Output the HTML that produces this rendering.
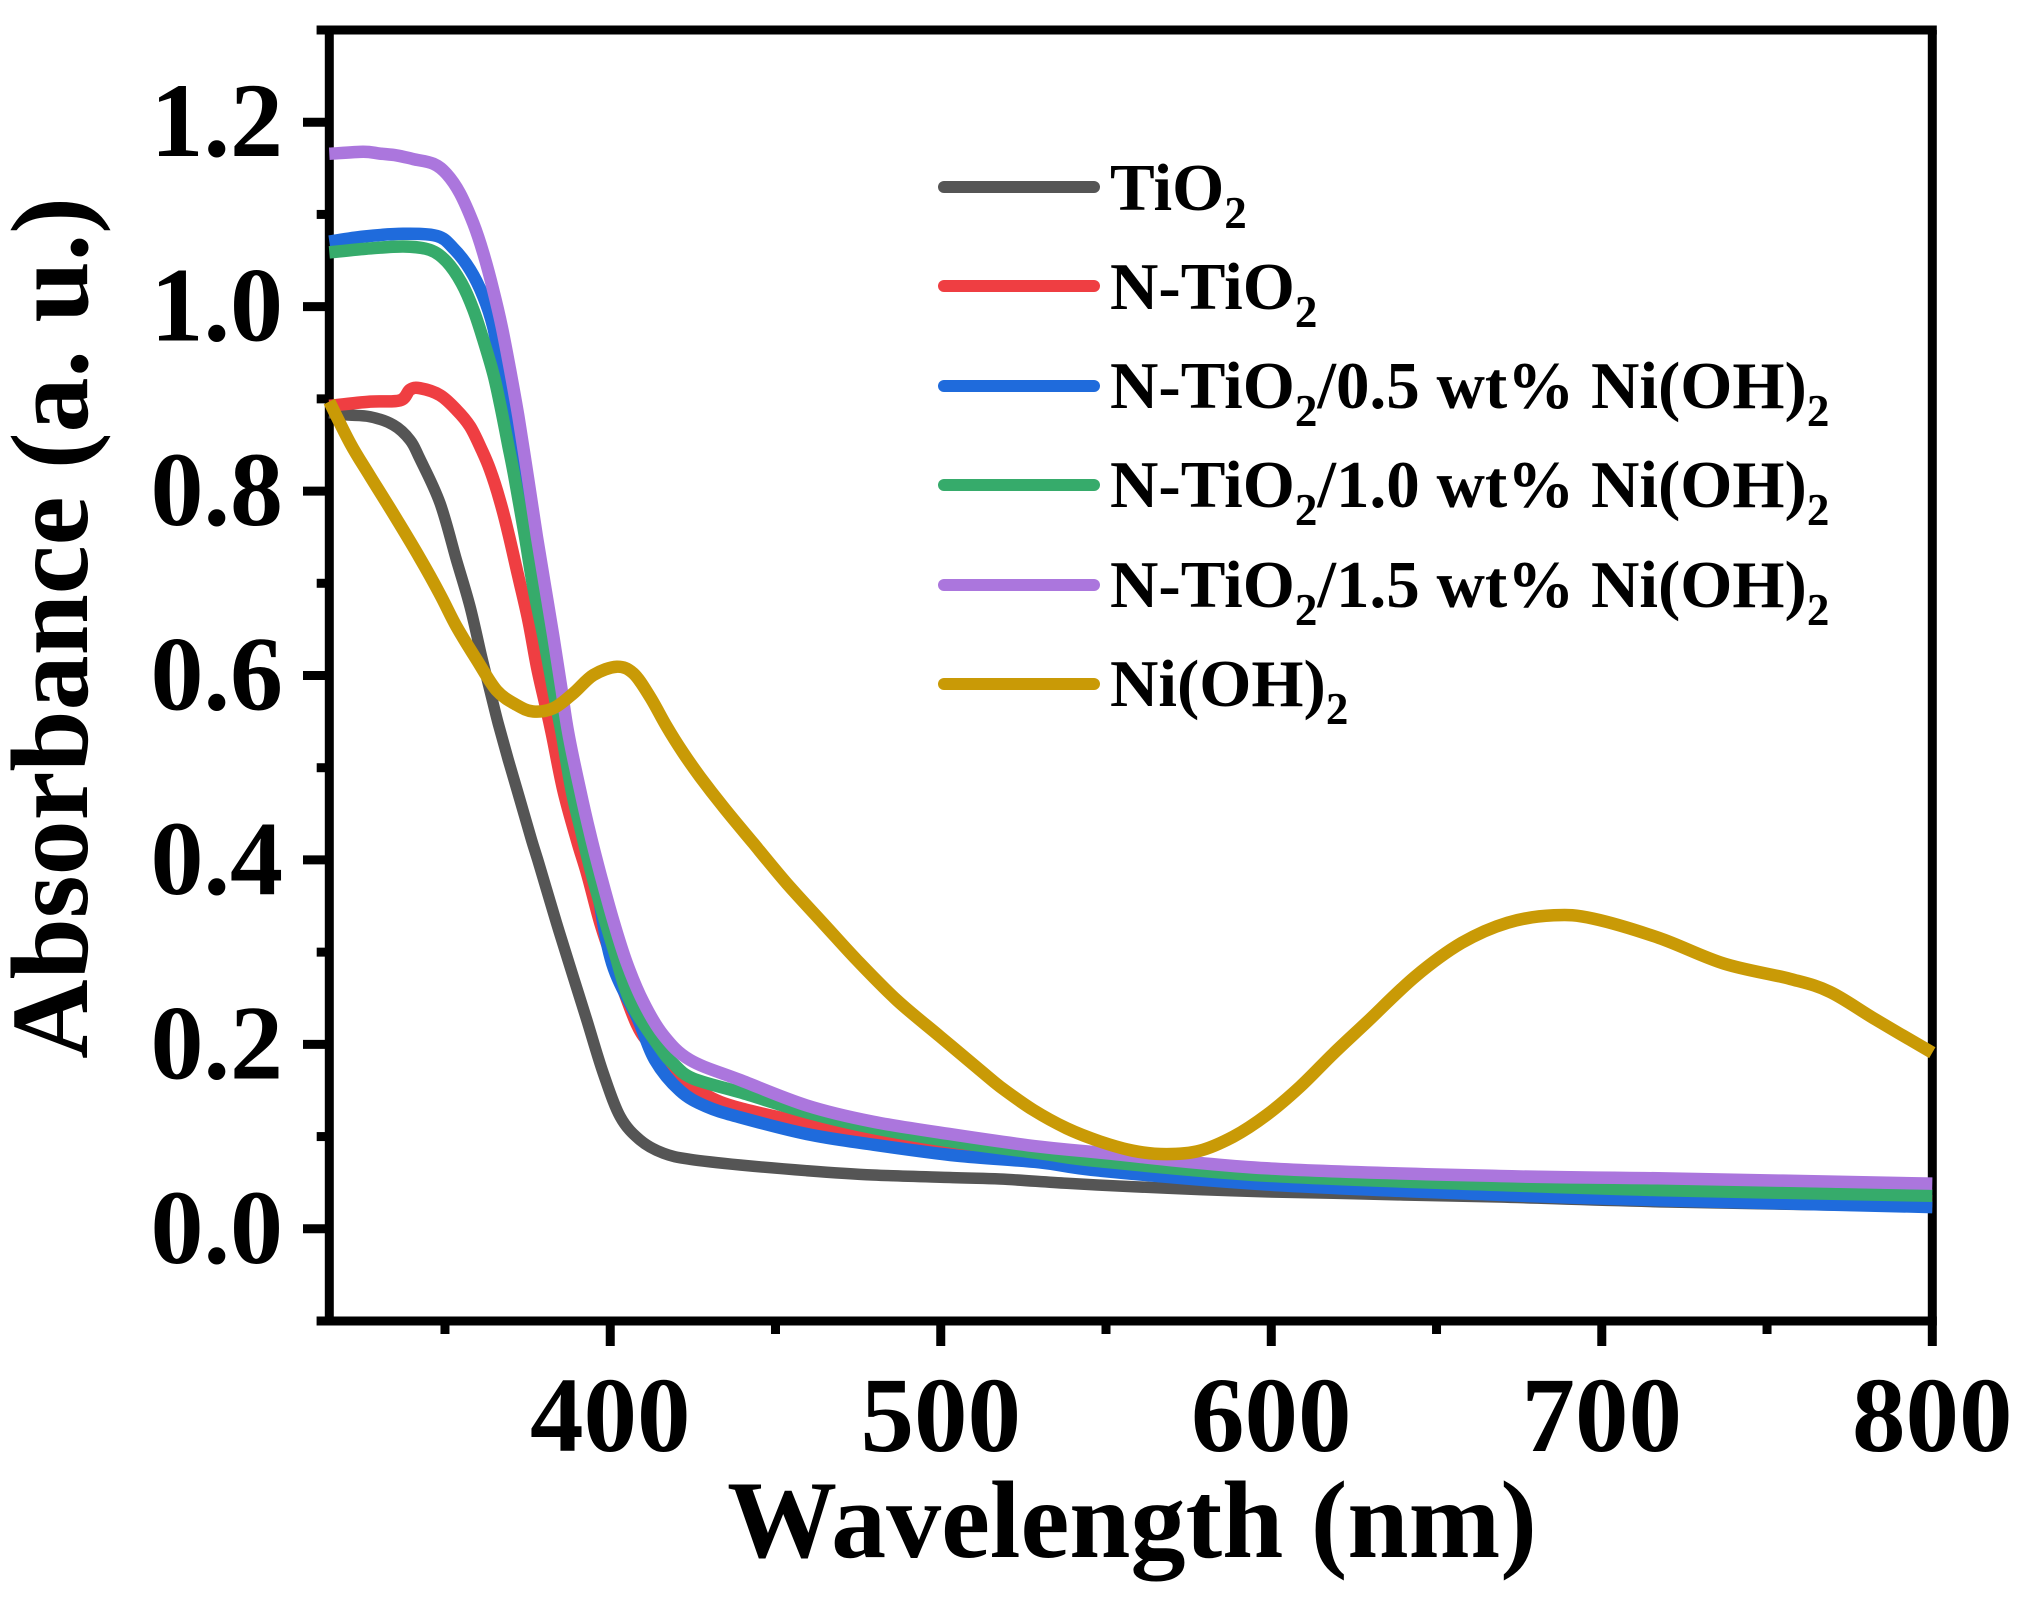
<!DOCTYPE html>
<html lang="en">
<head>
<meta charset="utf-8">
<title>Absorbance vs Wavelength</title>
<style>
html,body{margin:0;padding:0;background:#fff;width:2033px;height:1601px;overflow:hidden}
svg{display:block}
text{font-family:"Liberation Serif",serif;font-weight:bold;fill:#000}
</style>
</head>
<body>
<svg id="chart" xmlns="http://www.w3.org/2000/svg" width="2033" height="1601" viewBox="0 0 2033 1601">
  <rect x="0" y="0" width="2033" height="1601" fill="#fff"/>
  <g id="axes"></g>
  <g id="series"></g>
  <text x="1132" y="1557" font-size="110" text-anchor="middle">Wavelength (nm)</text>
  <text transform="translate(87 628) rotate(-90)" font-size="110" text-anchor="middle">Absorbance (a. u.)</text>
  <g font-size="67">
    <g>
      <line x1="944" x2="1094" y1="187" y2="187" stroke="#555555" stroke-width="12" stroke-linecap="round"/>
      <text x="1110" y="210">TiO<tspan font-size="45" dy="18">2</tspan></text>
    </g>
    <g>
      <line x1="944" x2="1094" y1="286" y2="286" stroke="#ef3e42" stroke-width="12" stroke-linecap="round"/>
      <text x="1110" y="309">N-TiO<tspan font-size="45" dy="18">2</tspan></text>
    </g>
    <g>
      <line x1="944" x2="1094" y1="386" y2="386" stroke="#1f6bdc" stroke-width="12" stroke-linecap="round"/>
      <text x="1110" y="408">N-TiO<tspan font-size="45" dy="18">2</tspan><tspan dy="-18">/0.5 wt% Ni(OH)</tspan><tspan font-size="45" dy="18">2</tspan></text>
    </g>
    <g>
      <line x1="944" x2="1094" y1="485" y2="485" stroke="#36ab6b" stroke-width="12" stroke-linecap="round"/>
      <text x="1110" y="507">N-TiO<tspan font-size="45" dy="18">2</tspan><tspan dy="-18">/1.0 wt% Ni(OH)</tspan><tspan font-size="45" dy="18">2</tspan></text>
    </g>
    <g>
      <line x1="944" x2="1094" y1="585" y2="585" stroke="#ab76dd" stroke-width="12" stroke-linecap="round"/>
      <text x="1110" y="607">N-TiO<tspan font-size="45" dy="18">2</tspan><tspan dy="-18">/1.5 wt% Ni(OH)</tspan><tspan font-size="45" dy="18">2</tspan></text>
    </g>
    <g>
      <line x1="944" x2="1094" y1="684" y2="684" stroke="#c99a06" stroke-width="12" stroke-linecap="round"/>
      <text x="1110" y="706">Ni(OH)<tspan font-size="45" dy="18">2</tspan></text>
    </g>
  </g>
</svg>
<script>
const xMajorTicks = [400, 500, 600, 700, 800];
const xMinorTicks = [350, 450, 550, 650, 750];
const yMajorTicks = [0, 0.2, 0.4, 0.6, 0.8, 1.0, 1.2];
const yMinorTicks = [-0.1, 0.1, 0.3, 0.5, 0.7, 0.9, 1.1, 1.3];
const xTickLabels = ['400', '500', '600', '700', '800'];
const yTickLabels = ['0.0', '0.2', '0.4', '0.6', '0.8', '1.0', '1.2'];

const tio2Nm = [315,320.3,327.3,334.4,339.4,342.4,348.5,353.5,357.6,361.1,363.6,366.1,369.2,372.7,376.2,378.7,383.8,388.8,392.9,397.9,403,409,416.1,424.1,439.3,459.4,479.6,504.8,518,538.1,558.3,578.4,598.6,618.8,639,669,720,800];
const tio2Abs = [0.885,0.8826,0.8807,0.8717,0.8554,0.835,0.787,0.725,0.6745,0.62,0.584,0.548,0.508,0.465,0.4215,0.3927,0.331,0.2734,0.2264,0.1686,0.1216,0.0963,0.0819,0.0754,0.0692,0.063,0.0583,0.0554,0.054,0.0493,0.0456,0.0425,0.04,0.0385,0.0367,0.0345,0.029,0.024];

const nTio2Nm = [315,327.3,336.4,339.4,342.4,348.5,353.5,357.6,361.1,363.6,366.6,369.2,372.2,375.2,377.8,380.3,382.3,385.8,389.9,393,397.1,401.1,408,413,419.1,429,439.3,459.4,479.6,504.8,530,598,650,720,800];
const nTio2Abs = [0.8925,0.897,0.8983,0.9098,0.9116,0.904,0.888,0.87,0.8446,0.8235,0.79,0.754,0.707,0.66,0.6095,0.57,0.5375,0.4755,0.4215,0.385,0.33,0.288,0.222,0.196,0.1704,0.145,0.1308,0.1144,0.0985,0.085,0.075,0.05,0.04,0.034,0.03];

const wt05Nm = [315,325.3,337.4,347.6,352.5,357.6,361.6,364.6,366.6,369.3,372.9,377.5,382,386.7,391,396,400.6,408.5,413.5,421.1,429,439.3,459.4,479.6,504.8,530,548.2,598.6,669,717,800];
const wt05Abs = [1.0705,1.076,1.079,1.0766,1.0635,1.04,1.011,0.978,0.939,0.89,0.807,0.707,0.619,0.53,0.46,0.37,0.2876,0.2265,0.1831,0.1497,0.1327,0.1209,0.1028,0.0912,0.0793,0.072,0.063,0.048,0.0367,0.031,0.0235];

const wt10Nm = [315,325.3,337.4,345.4,350.5,355,358.6,361.6,364.6,366.6,369.2,371.2,374.2,376.7,379.8,382.8,385.3,388.3,391.4,394.9,401.1,406.2,414.9,419.1,425,439.3,459.4,479.6,504.8,530,548.2,598.6,669,717,800];
const wt10Abs = [1.0588,1.0625,1.0652,1.0615,1.0488,1.0256,0.9966,0.9641,0.9275,0.8956,0.8486,0.812,0.7505,0.6965,0.642,0.584,0.5375,0.4755,0.4285,0.378,0.3023,0.2459,0.197,0.179,0.163,0.148,0.1263,0.1093,0.0938,0.0819,0.0732,0.0576,0.0475,0.042,0.0358];

const wt15Nm = [315,325.3,330.3,335.4,340.4,346.5,350.5,354.5,358.6,361.6,364.6,367.2,369.7,372.2,375.2,377.8,380.3,382.8,385.3,387.3,390.9,393.9,397,400.9,405,410,416,424.1,439.3,459.4,479.6,504.8,530,548.2,598.6,669,717,800];
const wt15Abs = [1.1657,1.168,1.166,1.164,1.16,1.155,1.144,1.123,1.09,1.058,1.018,0.978,0.9315,0.881,0.812,0.7505,0.6965,0.642,0.584,0.5375,0.4755,0.4285,0.385,0.3345,0.2882,0.2459,0.2103,0.1831,0.1614,0.1338,0.1161,0.1016,0.089,0.0826,0.0656,0.0572,0.0547,0.049];

const niNm = [315,321.3,327,334.6,342.3,348.5,353.5,359.6,365.6,371.7,376.7,382.8,388.8,394.9,402,407,412,417.1,422.1,427.2,434.2,443.3,453.4,464.5,474.6,486.7,499.8,511.9,518,528,538.1,548.2,558.3,568.3,578.4,588.5,598.6,608.7,618.8,628.9,643.6,657.6,671.5,685.5,697.4,717.3,737,757,769,783,800];
const niAbs = [0.897,0.852,0.818,0.774,0.728,0.688,0.653,0.617,0.584,0.568,0.561,0.5645,0.5806,0.6005,0.6095,0.6023,0.577,0.5445,0.516,0.49,0.4575,0.418,0.3746,0.331,0.2915,0.248,0.2084,0.172,0.154,0.1288,0.109,0.0947,0.0846,0.081,0.0847,0.0999,0.1234,0.154,0.19,0.224,0.2737,0.31,0.3319,0.34,0.3364,0.3154,0.2876,0.271,0.257,0.2266,0.191];

const seriesColors = ['#555555', '#ef3e42', '#1f6bdc', '#36ab6b', '#ab76dd', '#c99a06'];
const seriesNames = ['tio2', 'n-tio2', 'n-tio2-0-5-wt', 'n-tio2-1-0-wt', 'n-tio2-1-5-wt', 'ni-oh-2'];
const seriesNm = [tio2Nm, nTio2Nm, wt05Nm, wt10Nm, wt15Nm, niNm];
const seriesAbs = [tio2Abs, nTio2Abs, wt05Abs, wt10Abs, wt15Abs, niAbs];

const NS = 'http://www.w3.org/2000/svg';
const X_MIN = 315, X_MAX = 800, Y_MIN = -0.1, Y_MAX = 1.3;
const LEFT = 329.3, RIGHT = 1932.3, TOP = 30, BOTTOM = 1321;
function xScale(v) { return LEFT + (v - X_MIN) / (X_MAX - X_MIN) * (RIGHT - LEFT); }
function yScale(v) { return BOTTOM - (v - Y_MIN) / (Y_MAX - Y_MIN) * (BOTTOM - TOP); }

function mk(tag, attrs) {
  const el = document.createElementNS(NS, tag);
  for (const k in attrs) el.setAttribute(k, attrs[k]);
  return el;
}

const axes = document.getElementById('axes');
const AXIS_W = 9;

function axisLine(x1, y1, x2, y2) {
  return mk('line', { x1: x1, y1: y1, x2: x2, y2: y2, stroke: '#000', 'stroke-width': AXIS_W });
}

const frameTop = axisLine(316.7, TOP, RIGHT + AXIS_W / 2, TOP);


axes.appendChild(frameTop);

const frameBottom = axisLine(316.7, BOTTOM, RIGHT + AXIS_W / 2, BOTTOM);


axes.appendChild(frameBottom);

const frameLeft = axisLine(LEFT, TOP, LEFT, BOTTOM);


axes.appendChild(frameLeft);

const frameRight = axisLine(RIGHT, TOP, RIGHT, BOTTOM);


axes.appendChild(frameRight);

xMajorTicks.forEach(function (v, i) {
  const x = xScale(v);
  const t = axisLine(x, BOTTOM, x, 1346);
  
  
  axes.appendChild(t);
  const label = mk('text', { x: x, y: 1451, 'font-size': 107, 'text-anchor': 'middle' });
  label.textContent = xTickLabels[i];
  
  
  axes.appendChild(label);
});

xMinorTicks.forEach(function (v) {
  const x = xScale(v);
  const t = axisLine(x, BOTTOM, x, 1334);
  
  
  axes.appendChild(t);
});

yMajorTicks.forEach(function (v, i) {
  const y = yScale(v);
  const t = axisLine(303, y, LEFT, y);
  
  
  axes.appendChild(t);
  const label = mk('text', { x: 283, y: y + 34, 'font-size': 106, 'text-anchor': 'end' });
  label.textContent = yTickLabels[i];
  
  
  axes.appendChild(label);
});

yMinorTicks.forEach(function (v) {
  const y = yScale(v);
  const t = axisLine(316.7, y, LEFT, y);
  
  
  axes.appendChild(t);
});

function smoothPath(pts) {
  let d = 'M' + pts[0][0].toFixed(1) + ' ' + pts[0][1].toFixed(1);
  for (let i = 0; i < pts.length - 1; i++) {
    const p0 = pts[Math.max(i - 1, 0)];
    const p1 = pts[i];
    const p2 = pts[i + 1];
    const p3 = pts[Math.min(i + 2, pts.length - 1)];
    const c1x = p1[0] + (p2[0] - p0[0]) / 6;
    const c1y = p1[1] + (p2[1] - p0[1]) / 6;
    const c2x = p2[0] - (p3[0] - p1[0]) / 6;
    const c2y = p2[1] - (p3[1] - p1[1]) / 6;
    d += 'C' + c1x.toFixed(1) + ' ' + c1y.toFixed(1) + ' ' + c2x.toFixed(1) + ' ' + c2y.toFixed(1) + ' ' + p2[0].toFixed(1) + ' ' + p2[1].toFixed(1);
  }
  return d;
}

const seriesGroup = document.getElementById('series');
seriesNm.forEach(function (nm, s) {
  const pts = nm.map(function (v, i) { return [xScale(v), yScale(seriesAbs[s][i])]; });
  const path = mk('path', {
    d: smoothPath(pts),
    fill: 'none',
    stroke: seriesColors[s],
    'stroke-width': s === 0 ? 11.5 : 12.5,
    'stroke-linejoin': 'round'
  });
  
  
  seriesGroup.appendChild(path);
});
</script>
</body>
</html>
